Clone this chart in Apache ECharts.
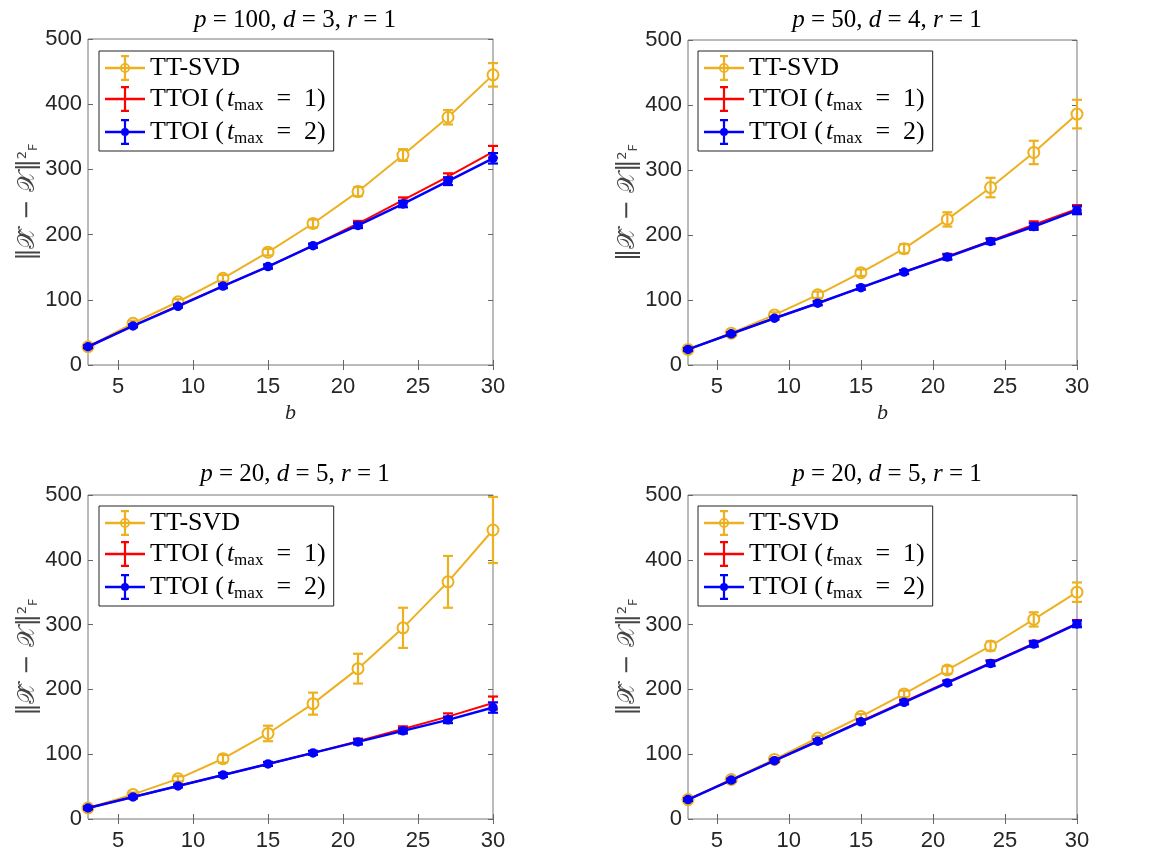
<!DOCTYPE html>
<html>
<head>
<meta charset="utf-8">
<script src="https://cdn.jsdelivr.net/npm/echarts@6/dist/echarts.min.js"></script>
<style>
  html, body { margin: 0; padding: 0; background: #fff; }
  #chart { width: 1164px; height: 860px; }
</style>
</head>
<body>
<div id="chart"></div>
<script>
// block sizes b (x axis)
const bValues = [3, 6, 9, 12, 15, 18, 21, 24, 27, 30];
const xTicks = [5, 10, 15, 20, 25, 30];

// p = 100, d = 3
const svdP100 = [28, 64, 97, 133, 173, 217, 266, 322, 380, 445];
const svdP100Err = [3, 4, 4, 5, 5, 6, 7, 9, 11, 18];
const tt1P100 = [28, 60, 91, 121, 151, 183, 217, 253, 289, 327];
const tt1P100Err = [2, 2, 2, 3, 3, 3, 4, 4, 5, 9];
const tt2P100 = [28, 60, 90, 121, 151, 183, 214, 247, 282, 317];
const tt2P100Err = [2, 2, 2, 3, 3, 3, 4, 5, 6, 8];

// p = 50, d = 4
const svdP50 = [24, 49, 77, 108, 142, 179, 224, 273, 327, 386];
const svdP50Err = [2, 3, 4, 5, 5, 7, 11, 15, 18, 22];
const tt1P50 = [24, 48, 72, 95, 119, 143, 167, 191, 216, 240];
const tt1P50Err = [2, 2, 2, 3, 3, 3, 4, 4, 5, 6];
const tt2P50 = [24, 48, 72, 95, 119, 143, 166, 190, 213, 238];
const tt2P50Err = [2, 2, 2, 3, 3, 3, 4, 4, 5, 6];

// p = 20, d = 5 (left)
const svdP20a = [17, 38, 62, 93, 132, 178, 232, 295, 366, 446];
const svdP20aErr = [2, 3, 4, 6, 12, 17, 23, 31, 40, 51];
const tt1P20a = [17, 34, 51, 68, 85, 102, 120, 139, 158, 179];
const tt1P20aErr = [2, 2, 2, 3, 3, 3, 4, 4, 5, 10];
const tt2P20a = [17, 34, 51, 68, 85, 102, 119, 136, 153, 172];
const tt2P20aErr = [2, 2, 2, 3, 3, 3, 4, 4, 5, 8];

// p = 20, d = 5 (right)
const svdP20b = [30, 61, 92, 125, 158, 193, 230, 267, 308, 350];
const svdP20bErr = [2, 2, 3, 3, 4, 5, 6, 7, 11, 15];
const tt1P20b = [30, 60, 90, 120, 151, 181, 211, 241, 271, 302];
const tt1P20bErr = [2, 2, 2, 3, 3, 3, 3, 4, 4, 5];
const tt2P20b = [30, 60, 90, 120, 150, 180, 210, 240, 270, 301];
const tt2P20bErr = [2, 2, 2, 3, 3, 3, 3, 4, 4, 5];

const panelTitles = ['{i|p} = 100, {i|d} = 3, {i|r} = 1', '{i|p} = 50, {i|d} = 4, {i|r} = 1',
  '{i|p} = 20, {i|d} = 5, {i|r} = 1', '{i|p} = 20, {i|d} = 5, {i|r} = 1'];

const panels = [
  [[svdP100, svdP100Err], [tt1P100, tt1P100Err], [tt2P100, tt2P100Err]],
  [[svdP50, svdP50Err], [tt1P50, tt1P50Err], [tt2P50, tt2P50Err]],
  [[svdP20a, svdP20aErr], [tt1P20a, tt1P20aErr], [tt2P20a, tt2P20aErr]],
  [[svdP20b, svdP20bErr], [tt1P20b, tt1P20bErr], [tt2P20b, tt2P20bErr]]
];

const names = ['TT-SVD', 'TTOI (t_max = 1)', 'TTOI (t_max = 2)'];
const colors = ['#EDB120', '#FF0000', '#0000FF'];

const grids = [
  { left: 88, top: 39, width: 405, height: 326 },
  { left: 688, top: 40, width: 389, height: 325 },
  { left: 88, top: 495, width: 405, height: 324 },
  { left: 688, top: 495, width: 389, height: 324 }
];
const legendPos = [[99, 51], [698, 51], [99, 506], [698, 506]];
const titlePos = [[290, 3], [882, 3], [290, 457], [882, 457]];

const barPath = 'M0,11.8 L40,11.8 L40,14.2 L0,14.2 Z M18.9,1 L21.1,1 L21.1,25 L18.9,25 Z M16,0 L24,0 L24,2.2 L16,2.2 Z M16,23.8 L24,23.8 L24,26 L16,26 Z';
const icons = [
  'path://' + barPath + ' M25,13 A5,5 0 1,1 15,13 A5,5 0 1,1 25,13 Z M23.3,13 A3.3,3.3 0 1,0 16.7,13 A3.3,3.3 0 1,0 23.3,13 Z',
  'path://' + barPath,
  'path://' + barPath + ' M24,13 A4,4 0 1,1 16,13 A4,4 0 1,1 24,13 Z'
];

const tickFont = { fontFamily: 'Liberation Sans, Arial, sans-serif', fontSize: 22, color: '#262626' };
const serif = 'Liberation Serif, DejaVu Serif, serif';

function errorBars(color) {
  return function (params, api) {
    const x = api.value(0);
    const top = api.coord([x, api.value(2)]);
    const bot = api.coord([x, api.value(1)]);
    const w = 5;
    const st = { stroke: color, lineWidth: 2.2 };
    return {
      type: 'group',
      children: [
        { type: 'line', shape: { x1: top[0], y1: top[1], x2: bot[0], y2: bot[1] }, style: st },
        { type: 'line', shape: { x1: top[0] - w, y1: top[1], x2: top[0] + w, y2: top[1] }, style: st },
        { type: 'line', shape: { x1: bot[0] - w, y1: bot[1], x2: bot[0] + w, y2: bot[1] }, style: st }
      ]
    };
  };
}

const xAxes = [], yAxes = [], series = [], legends = [], titles = [];

grids.forEach((g, k) => {
  // bottom + top x axes
  xAxes.push({
    gridIndex: k, type: 'value', min: 3, max: 30, position: 'bottom',
    axisLine: { show: false },
    axisTick: { inside: true, length: 5, customValues: xTicks, lineStyle: { color: '#666' } },
    axisLabel: Object.assign({ customValues: xTicks, margin: 11 }, tickFont),
    splitLine: { show: false },
    name: k < 2 ? 'b' : '', nameLocation: 'middle', nameGap: 37,
    nameTextStyle: { fontFamily: serif, fontStyle: 'italic', fontSize: 22, color: '#262626' }
  });
  xAxes.push({
    gridIndex: k, type: 'value', min: 3, max: 30, position: 'top',
    axisLine: { show: false },
    axisTick: { inside: true, length: 5, customValues: xTicks, lineStyle: { color: '#666' } },
    axisLabel: { show: false }, splitLine: { show: false }
  });
  yAxes.push({
    gridIndex: k, type: 'value', min: 0, max: 500, interval: 100, position: 'left',
    axisLine: { show: false },
    axisTick: { inside: true, length: 5, lineStyle: { color: '#666' } },
    axisLabel: Object.assign({ margin: 6 }, tickFont),
    splitLine: { show: false },
    name: '‖𝒳̂ − 𝒳‖{sup|2}{sub|F}', nameLocation: 'middle', nameRotate: 90, nameGap: 48,
    nameTextStyle: {
      fontFamily: 'DejaVu Sans, sans-serif', fontSize: 24, color: '#444',
      rich: {
        sup: { fontSize: 13, fontFamily: 'DejaVu Sans', color: '#444', verticalAlign: 'top' },
        sub: { fontSize: 13, fontFamily: 'DejaVu Sans', color: '#444', verticalAlign: 'bottom' }
      }
    }
  });
  yAxes.push({
    gridIndex: k, type: 'value', min: 0, max: 500, interval: 100, position: 'right',
    axisLine: { show: false },
    axisTick: { inside: true, length: 5, lineStyle: { color: '#666' } },
    axisLabel: { show: false }, splitLine: { show: false }
  });

  panels[k].forEach((pair, s) => {
    const vals = pair[0], err = pair[1];
    series.push({
      name: names[s], type: 'line', xAxisIndex: 2 * k, yAxisIndex: 2 * k,
      data: vals.map((v, i) => [bValues[i], v]),
      lineStyle: { color: colors[s], width: s === 2 ? 2.5 : 2 },
      itemStyle: { color: colors[s], borderColor: colors[s], borderWidth: 1.5 },
      symbol: s === 0 ? 'emptyCircle' : (s === 2 ? 'circle' : 'none'),
      symbolSize: s === 0 ? 11 : 8,
      showSymbol: s !== 1,
      z: 2 + s * 2, animation: false, silent: true
    });
    series.push({
      name: names[s], type: 'custom', xAxisIndex: 2 * k, yAxisIndex: 2 * k,
      data: vals.map((v, i) => [bValues[i], v - err[i], v + err[i]]),
      encode: { x: 0, y: [1, 2] },
      renderItem: errorBars(colors[s]),
      itemStyle: { color: colors[s] },
      z: 3 + s * 2, animation: false, silent: true
    });
  });

  legends.push({
    left: legendPos[k][0], top: legendPos[k][1], orient: 'vertical',
    backgroundColor: '#fff', borderColor: '#222', borderWidth: 1,
    padding: [4, 8, 4, 6], itemGap: 5, itemWidth: 40, itemHeight: 26,
    selectedMode: false,
    data: names.map((n, s) => ({ name: n, icon: icons[s], itemStyle: { color: colors[s], borderWidth: 0 } })),
    formatter: function (n) {
      if (n === 'TT-SVD') return '{n|TT-SVD}';
      const v = n.indexOf('1') >= 0 ? '1' : '2';
      return '{n|TTOI (}{i|t}{s|max}{n|  =  ' + v + ')}';
    },
    textStyle: {
      fontFamily: serif, fontSize: 26, color: '#000', padding: [0, 0, 0, 0],
      rich: {
        n: { fontFamily: serif, fontSize: 26, color: '#000', lineHeight: 28 },
        i: { fontFamily: serif, fontStyle: 'italic', fontSize: 26, color: '#000', lineHeight: 28, padding: [0, 0, 0, 3] },
        s: { fontFamily: serif, fontSize: 17, color: '#000', lineHeight: 30, verticalAlign: 'bottom' }
      }
    }
  });

  titles.push({
    text: panelTitles[k], left: titlePos[k][0], top: titlePos[k][1], textAlign: 'center',
    textStyle: {
      fontFamily: serif, fontSize: 25, fontWeight: 'normal', color: '#000',
      rich: { i: { fontFamily: serif, fontStyle: 'italic', fontSize: 25, color: '#000' } }
    }
  });
});

const chart = echarts.init(document.getElementById('chart'), null, { renderer: 'canvas' });
chart.setOption({
  backgroundColor: '#fff',
  animation: false,
  title: titles,
  grid: grids.map(g => Object.assign({ show: true, borderColor: '#777', borderWidth: 1, backgroundColor: '#fff' }, g)),
  xAxis: xAxes,
  yAxis: yAxes,
  legend: legends,
  series: series
});
</script>
</body>
</html>
